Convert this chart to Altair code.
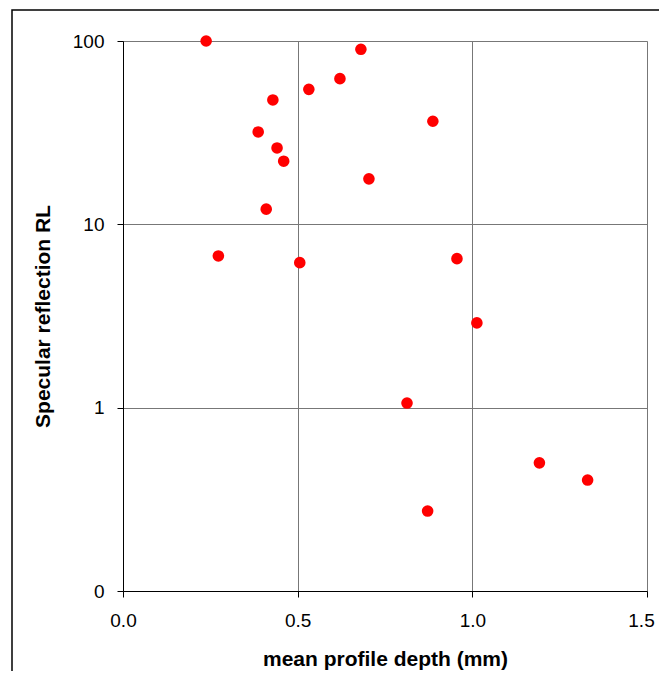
import altair as alt
import pandas as pd

depth = [0.238, 0.681, 0.621, 0.532, 0.429, 0.887, 0.387, 0.441, 0.460, 0.704,
         0.410, 0.273, 0.506, 0.956, 1.013, 0.813, 1.192, 1.330, 0.872]
reflection = [100.0, 90.1, 62.3, 54.5, 47.7, 36.5, 31.9, 26.1, 22.1, 17.7,
              12.1, 6.72, 6.18, 6.5, 2.9, 1.06, 0.50, 0.403, 0.273]
x_ticks = [0.0, 0.5, 1.0, 1.5]
y_ticks = [0.1, 1, 10, 100]

df = pd.DataFrame({"depth": depth, "refl": reflection})

FONT = "Liberation Sans"

points = alt.Chart(df).mark_circle(size=135, color="#FF0000", opacity=1).encode(
    x=alt.X("depth:Q",
            scale=alt.Scale(domain=[0, 1.5], nice=False, zero=False),
            axis=alt.Axis(values=x_ticks, format=".1f", title="mean profile depth (mm)",
                          grid=True, gridColor="#777777", gridWidth=1,
                          domainColor="#000000", domainWidth=1,
                          tickColor="#000000", tickSize=6,
                          labelFont=FONT, labelFontSize=19, labelColor="#000000",
                          labelPadding=14, labelFlush=False,
                          labelOffset={"expr": "datum.value == 1.5 ? -6 : 0"},
                          titleFont=FONT, titleFontSize=21, titleFontWeight="bold",
                          titleColor="#000000", titlePadding=18)),
    y=alt.Y("refl:Q",
            scale=alt.Scale(type="log", domain=[0.1, 100], nice=False),
            axis=alt.Axis(values=y_ticks, labelExpr="format(datum.value, '.0f')",
                          title="Specular reflection RL",
                          grid=True, gridColor="#777777", gridWidth=1,
                          domainColor="#000000", domainWidth=1,
                          tickColor="#000000", tickSize=6,
                          labelFont=FONT, labelFontSize=19, labelColor="#000000",
                          labelPadding=13, labelFlush=False,
                          titleFont=FONT, titleFontSize=21, titleFontWeight="bold",
                          titleColor="#000000", titlePadding=19)),
)

frame = alt.Chart(pd.DataFrame({"k": [0]})).mark_rect(
    fill=None, stroke="#000000", strokeWidth=1.5, clip=False
).encode(
    x=alt.value(-111), x2=alt.value(600),
    y=alt.value(-31), y2=alt.value(700),
)

chart = alt.layer(frame, points).properties(
    width=524, height=550,
    autosize=alt.AutoSizeParams(type="none"),
    padding={"left": 115, "top": 33, "right": 12, "bottom": 80},
).configure_view(stroke="#999999", strokeWidth=1.5).configure(background="white")

chart.save("out.html", embed_options={"renderer": "svg", "actions": False})
